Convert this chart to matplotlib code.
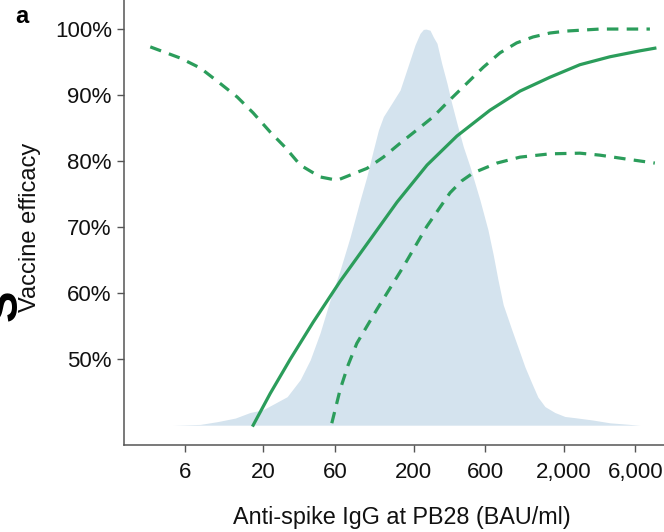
import numpy as np
import matplotlib
matplotlib.use("Agg")
import matplotlib.pyplot as plt

# Données (IgG anti-spike en BAU/ml, efficacité en %)
# densité relative des titres (0 = base, 1 = pic)
dens_x = [5.0, 7.6, 9.9, 13.0, 16.3, 19.9, 28.8, 35.2, 41.0, 47.7, 55.6, 64.9,
          75.6, 88.1, 97.6, 108, 116.7, 125.9, 143.2, 162.6, 175.6, 189.6,
          204.6, 220.9, 232.4, 242, 257.5, 270.8, 286.5, 308, 334, 359, 389,
          429, 475, 554, 626, 679, 730, 791, 904, 996, 1104, 1223, 1346, 1500,
          1747, 2037, 2374, 3130, 4060, 6430]
dens_y = [0.0, 0.002, 0.009, 0.018, 0.032, 0.039, 0.072, 0.115, 0.165, 0.233,
          0.316, 0.392, 0.475, 0.568, 0.627, 0.695, 0.745, 0.779, 0.8125,
          0.846, 0.884, 0.922, 0.96, 0.989, 0.999, 1.0, 0.997, 0.98, 0.964,
          0.913, 0.863, 0.8125, 0.762, 0.703, 0.653, 0.568, 0.493, 0.43,
          0.367, 0.304, 0.24, 0.195, 0.147, 0.107, 0.071, 0.047, 0.032, 0.022,
          0.019, 0.013, 0.006, 0.0]

ve_x = [17.1, 22.2, 30.2, 42.9, 64.9, 102.7, 155.4, 246, 389, 645, 1023,
        1619, 2564, 4060, 6430, 8090]
ve_y = [40.0, 44.8, 50.0, 55.6, 61.8, 68.1, 73.8, 79.4, 83.8, 87.7, 90.6,
        92.7, 94.6, 95.8, 96.7, 97.1]

haut_x = [3.53, 5.6, 7.6, 10.0, 13.4, 17.1, 22.2, 27.9, 35.2, 47.7, 62, 98,
          125.9, 162.6, 210, 270, 350, 454, 582, 753, 972, 1249, 1619, 2100,
          3483, 7500]
haut_y = [97.3, 95.6, 94.1, 92.0, 89.7, 87.3, 84.4, 82.1, 79.4, 77.6, 77.1,
          78.9, 80.6, 82.7, 84.7, 86.7, 89.3, 91.8, 94.2, 96.4, 97.9, 98.8,
          99.4, 99.7, 100.0, 100.0]

bas_x = [57.1, 64.9, 73.3, 83.8, 113.8, 171, 245, 350, 418.5, 498, 718, 1023,
         1619, 2564, 3483, 5260, 8090]
bas_y = [40.3, 45.4, 49.1, 52.4, 57.5, 64.0, 70.1, 75.2, 77.0, 78.2, 79.7,
         80.6, 81.1, 81.2, 80.9, 80.3, 79.7]

xticks = [6, 20, 60, 200, 600, 2000, 6000]
xlabels = ["6", "20", "60", "200", "600", "2,000", "6,000"]
yticks = [50, 60, 70, 80, 90, 100]
ylabels = ["50%", "60%", "70%", "80%", "90%", "100%"]

vert = "#2b9d5b"
bleu = "#d4e3ee"
gris = "#555555"

plt.rcParams["font.family"] = ["Liberation Sans", "DejaVu Sans"]

fig = plt.figure(figsize=(6.64, 5.32), dpi=100)
ax = fig.add_axes([124.3 / 664, 87 / 532, 1 - 124.3 / 664, 1 - 87 / 532])

base = 40
ax.fill_between(dens_x, base, base + 60 * np.array(dens_y), color=bleu, lw=0)
ax.plot(ve_x, ve_y, color=vert, lw=2.3, solid_joinstyle="round")
ax.plot(haut_x, haut_y, color=vert, lw=2.3, linestyle=(0, (3.6, 2.6)))
ax.plot(bas_x, bas_y, color=vert, lw=2.3, linestyle=(0, (3.6, 2.6)))

ax.set_xscale("log")
ax.set_xlim(2.37, 9310)
ax.set_ylim(37.0, 104.4)
ax.set_xticks(xticks)
ax.set_xticklabels(xlabels)
ax.minorticks_off()
ax.set_yticks(yticks)
ax.set_yticklabels(ylabels)

for s in ["top", "right"]:
    ax.spines[s].set_visible(False)
for s in ["left", "bottom"]:
    ax.spines[s].set_color(gris)
    ax.spines[s].set_linewidth(1.1)

ax.tick_params(axis="both", colors=gris, labelcolor="#111111", labelsize=16,
               length=5, width=1.0)
ax.tick_params(axis="x", pad=7.5)
ax.tick_params(axis="y", pad=4)

ax.set_xlabel("Anti-spike IgG at PB28 (BAU/ml)", fontsize=16.8, color="#111111")
ax.xaxis.set_label_coords(0.5136, -0.137)
ax.set_ylabel("Vaccine efficacy", fontsize=17, color="#111111")
ax.yaxis.set_label_coords(-0.154, 0.49)

fig.text(15 / 664, 1 - 23 / 532, "a", fontsize=17, fontweight="bold",
         ha="left", va="baseline")
# lettre coupée du panneau voisin, au bord gauche
fig.text(5 / 664, 1 - 305 / 532, "S", fontsize=34, fontweight="bold",
         rotation=90, ha="center", va="center")

fig.savefig("out.png", dpi=100)
